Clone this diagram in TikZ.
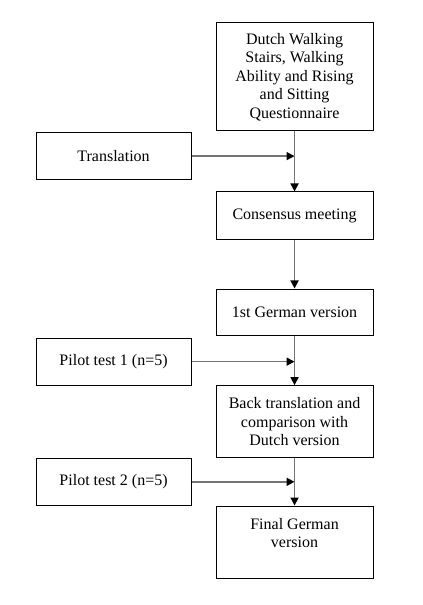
\documentclass[tikz,border=0pt]{standalone}
\usepackage{fontspec}
\setmainfont{Liberation Serif}
\usepackage{tikz}
\usetikzlibrary{arrows.meta, positioning, calc}
\definecolor{linegray}{gray}{0.45}

\begin{document}
\begin{tikzpicture}[
    node distance=36.75pt and 18pt,
    font=\rmfamily\fontsize{12}{13.8}\selectfont,
    mainbox/.style={draw, line width=0.75pt, rectangle, align=center, minimum width=117.75pt, inner sep=2pt},
    sidebox/.style={draw, line width=0.75pt, rectangle, align=center, minimum width=116.25pt, minimum height=35.25pt},
    arr/.style={-{Triangle[length=6pt, width=6pt, color=black]}, line width=1.2pt, linegray}
]
    \useasboundingbox (0,0) rectangle (317.25pt,-453.75pt);

    % Nodes
    \node[mainbox, minimum height=81pt] (dwq) at (220.9pt,-57.75pt) {Dutch Walking\\Stairs, Walking\\Ability and Rising\\and Sitting\\Questionnaire};
    \node[mainbox, minimum height=36pt, below=45pt of dwq] (cons) {Consensus meeting};
    \node[mainbox, minimum height=35pt, below=36pt of cons] (ger1) {1st German version};
    \node[mainbox, minimum height=54pt, below=of ger1] (back) {Back translation and\\comparison with\\Dutch version};
    \node[mainbox, minimum height=54pt, below=35.5pt of back] (final) {Final German\\version\\\mbox{}};

    % Junctions on the main line
    \coordinate (j1) at ($(dwq.south)!0.41!(cons.north)$);
    \coordinate (j2) at ($(ger1.south)!0.52!(back.north)$);
    \coordinate (j3) at ($(back.south)!0.5!(final.north)$);

    % Side nodes
    \node[sidebox, anchor=east, xshift=-18pt] (trans) at (j1 -| dwq.west) {Translation};
    \node[sidebox, anchor=east, xshift=-18pt] (pilot1) at (j2 -| ger1.west) {Pilot test 1 (n=5)};
    \node[sidebox, anchor=east, xshift=-18pt] (pilot2) at (j3 -| back.west) {Pilot test 2 (n=5)};

    % Arrows
    \draw[arr] (dwq) -- (cons);
    \draw[arr] (cons) -- (ger1);
    \draw[arr] (ger1) -- (back);
    \draw[arr] (back) -- (final);
    \draw[arr] (trans) -- (j1);
    \draw[arr] (pilot1) -- (j2);
    \draw[arr] (pilot2) -- (j3);
\end{tikzpicture}
\end{document}
